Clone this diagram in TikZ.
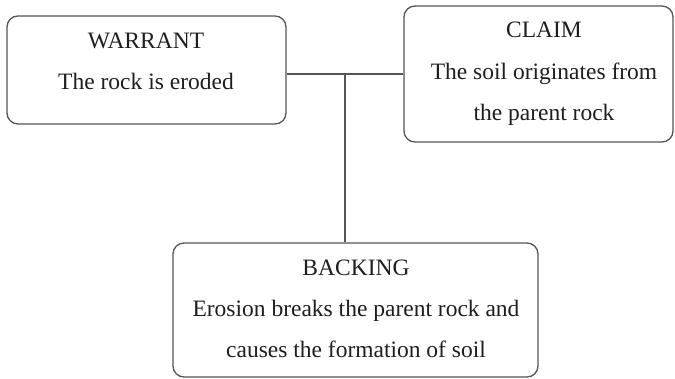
\documentclass[tikz,border=0pt]{standalone}
\usepackage{fontspec}
\setmainfont{Liberation Serif}
\definecolor{linegray}{RGB}{85,85,85}
\definecolor{txt}{RGB}{30,30,30}
\begin{document}
\begin{tikzpicture}[x=1pt,y=-1pt,
  box/.style={draw=linegray, line width=1.3pt, rounded corners=11pt, inner sep=0pt},
  lbl/.style={font=\fontsize{23.5}{28}\selectfont, text=txt, anchor=base, inner sep=0pt},
  conn/.style={draw=linegray, line width=1.3pt}]
\useasboundingbox (0,0) rectangle (675,379);
\node[box, minimum width=279pt, minimum height=108pt] (w) at (146.5,70) {};
\node[box, minimum width=269pt, minimum height=136pt] (c) at (538.5,74) {};
\node[box, minimum width=365pt, minimum height=134pt] (b) at (355.5,310) {};
\node[lbl] (w1) at (146,49) {WARRANT};
\node[lbl] (w2) at (146,90) {The rock is eroded};
\node[lbl] (c1) at (544,38) {CLAIM};
\node[lbl] (c2) at (544,80) {The soil originates from};
\node[lbl] (c3) at (544,121) {the parent rock};
\node[lbl] (b1) at (356,276) {BACKING};
\node[lbl] (b2) at (356,317) {Erosion breaks the parent rock and};
\node[lbl] (b3) at (356,358) {causes the formation of soil};
\coordinate (j) at (345,74);
\draw[conn] (c.west) -- (c.west -| w.east);
\draw[conn] (j) -- (j |- b.north);
\end{tikzpicture}
\end{document}
